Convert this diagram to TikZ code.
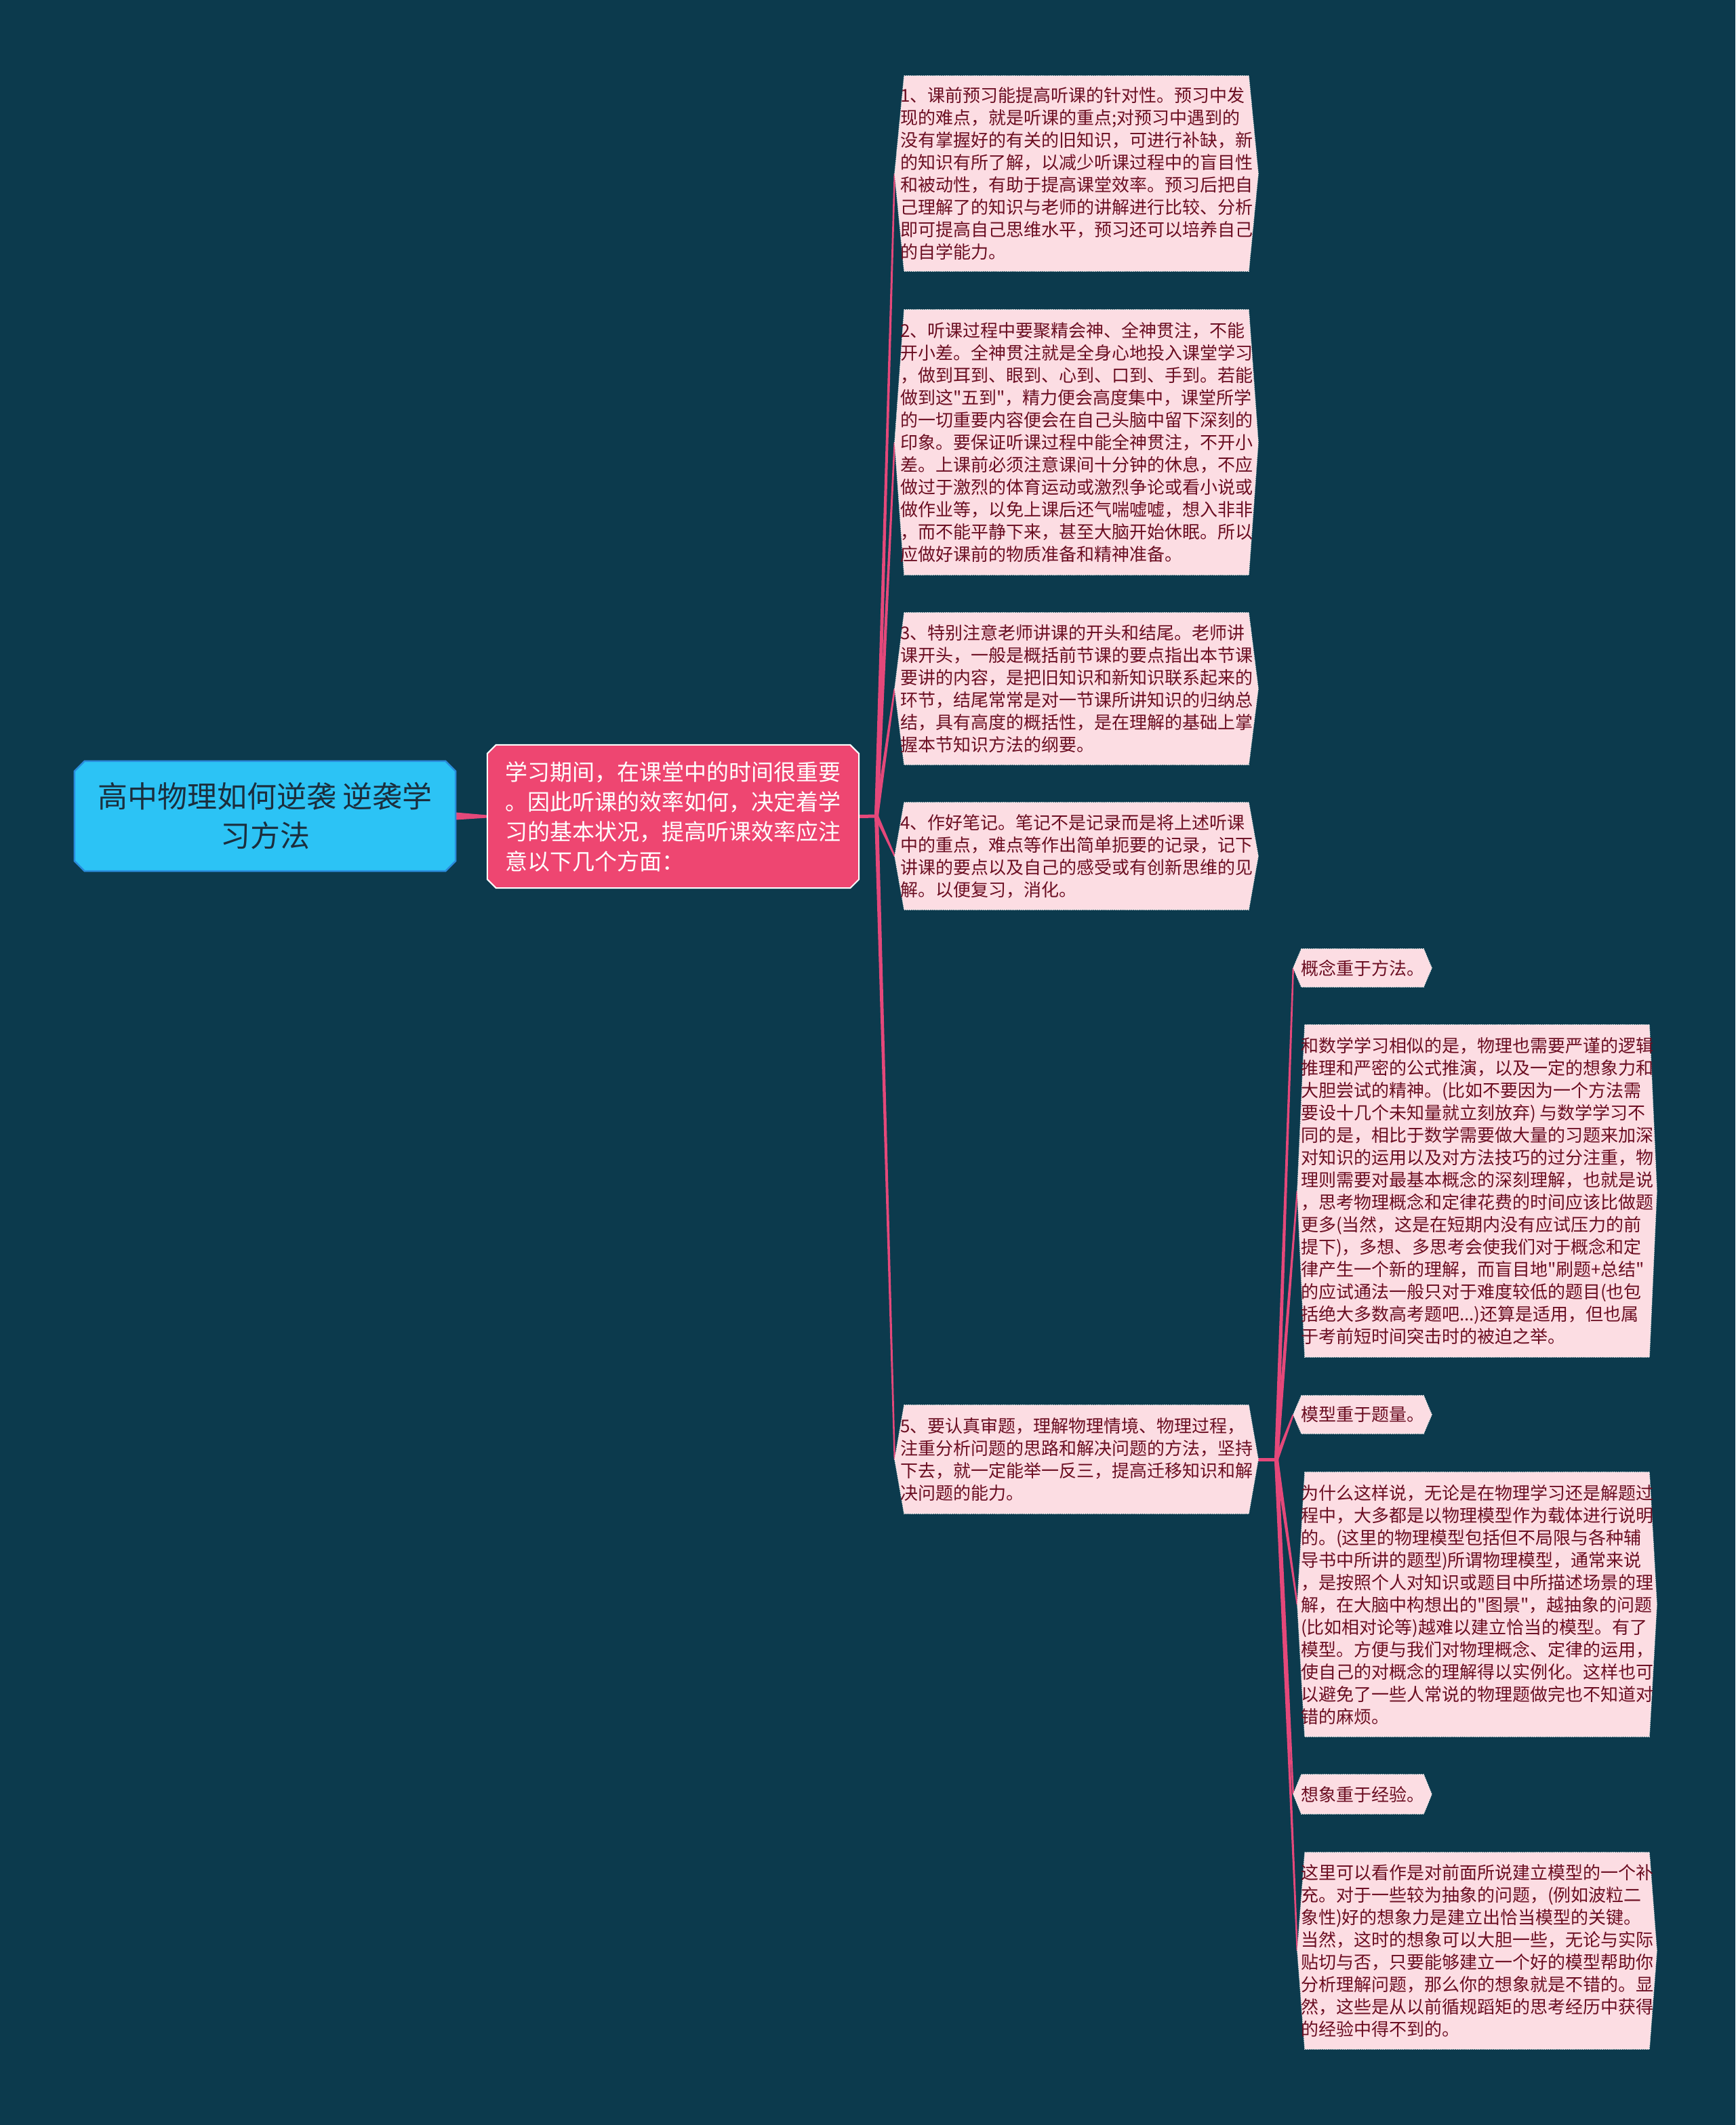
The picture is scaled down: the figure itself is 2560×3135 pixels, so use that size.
\documentclass[tikz,border=0pt]{standalone}
\usepackage{fontspec}
\setmainfont{Noto Sans CJK SC}[Ligatures=TeXOff]
\usetikzlibrary{calc}
\pgfdeclarelayer{background}
\pgfsetlayers{background,main}
\definecolor{bg}{HTML}{0C3A4D}
\definecolor{rootfill}{HTML}{2CC3F5}
\definecolor{rootline}{HTML}{2A8CDC}
\definecolor{roottext}{HTML}{1B2E3D}
\definecolor{mainfill}{HTML}{EE4671}
\definecolor{conn}{HTML}{E5487A}
\definecolor{boxfill}{HTML}{FCDDE3}
\definecolor{boxtext}{HTML}{6B0E22}
\definecolor{boxline}{HTML}{EDEDED}
\newcommand\hexbox[3]{\path[#3] ($(#1.north west)+(#2,0)$) -- ($(#1.north east)+(-#2,0)$) -- (#1.east) -- ($(#1.south east)+(-#2,0)$) -- ($(#1.south west)+(#2,0)$) -- (#1.west) -- cycle;}
\newcommand\octbox[3]{\path[#3] ($(#1.north west)+(#2,0)$) -- ($(#1.north east)+(-#2,0)$) -- ($(#1.north east)+(0,#2)$) -- ($(#1.south east)+(0,-#2)$) -- ($(#1.south east)+(-#2,0)$) -- ($(#1.south west)+(#2,0)$) -- ($(#1.south west)+(0,-#2)$) -- ($(#1.north west)+(0,#2)$) -- cycle;}
\newcommand\taper[4]{\fill[conn] ($(#1)!#3!90:(#2)$) -- ($(#2)!#4!-90:(#1)$) -- ($(#2)!#4!90:(#1)$) -- ($(#1)!#3!-90:(#2)$) -- cycle;}
\tikzset{
  txtbase/.style={inner sep=0pt, align=left, text=boxtext, font=\fontsize{26}{33}\selectfont},
  lvltwo/.style={txtbase, minimum width=536},
  lvlthree/.style={txtbase, minimum width=530},
  ttl/.style={txtbase, minimum width=204, minimum height=56},
  boxshape/.style={fill=boxfill, draw=boxline, line width=1.2pt, dash pattern=on 1.4pt off 1.4pt},
  rootnode/.style={inner sep=0pt, align=center, text=roottext, font=\fontsize{44}{58}\selectfont, minimum width=562, minimum height=162},
  mainnode/.style={inner sep=0pt, align=left, text=white, font=\fontsize{33}{44}\selectfont, minimum width=548, minimum height=211},
  stub/.style={draw=conn, line width=5pt},
}
\begin{document}
\begin{tikzpicture}[x=1pt,y=-1pt]
\useasboundingbox (0,0) rectangle (2560,3135);
\node[rootnode] (root) at (391,1204) {高中物理如何逆袭 逆袭学\\习方法};
\node[mainnode] (main) at (993,1204.5) {学习期间，在课堂中的时间很重要\\。因此听课的效率如何，决定着学\\习的基本状况，提高听课效率应注\\意以下几个方面：};
\coordinate (hubA) at (1293,1204);
\node[lvltwo, minimum height=288] (b1) at (1588,256) {1、课前预习能提高听课的针对性。预习中发\\现的难点，就是听课的重点;对预习中遇到的\\没有掌握好的有关的旧知识，可进行补缺，新\\的知识有所了解，以减少听课过程中的盲目性\\和被动性，有助于提高课堂效率。预习后把自\\己理解了的知识与老师的讲解进行比较、分析\\即可提高自己思维水平，预习还可以培养自己\\的自学能力。};
\node[lvltwo, minimum height=391] (b2) at (1588,652.5) {2、听课过程中要聚精会神、全神贯注，不能\\开小差。全神贯注就是全身心地投入课堂学习\\，做到耳到、眼到、心到、口到、手到。若能\\做到这"五到"，精力便会高度集中，课堂所学\\的一切重要内容便会在自己头脑中留下深刻的\\印象。要保证听课过程中能全神贯注，不开小\\差。上课前必须注意课间十分钟的休息，不应\\做过于激烈的体育运动或激烈争论或看小说或\\做作业等，以免上课后还气喘嘘嘘，想入非非\\，而不能平静下来，甚至大脑开始休眠。所以\\应做好课前的物质准备和精神准备。};
\node[lvltwo, minimum height=224] (b3) at (1588,1016) {3、特别注意老师讲课的开头和结尾。老师讲\\课开头，一般是概括前节课的要点指出本节课\\要讲的内容，是把旧知识和新知识联系起来的\\环节，结尾常常是对一节课所讲知识的归纳总\\结，具有高度的概括性，是在理解的基础上掌\\握本节知识方法的纲要。};
\node[lvltwo, minimum height=158] (b4) at (1588,1263) {4、作好笔记。笔记不是记录而是将上述听课\\中的重点，难点等作出简单扼要的记录，记下\\讲课的要点以及自己的感受或有创新思维的见\\解。以便复习，消化。};
\node[lvltwo, minimum height=160] (b5) at (1588,2153) {5、要认真审题，理解物理情境、物理过程，\\注重分析问题的思路和解决问题的方法，坚持\\下去，就一定能举一反三，提高迁移知识和解\\决问题的能力。};
\coordinate (hubB) at (1883,2153);
\node[ttl] (t1) at (2010,1428) {概念重于方法。};
\node[lvlthree, minimum height=490] (c1) at (2179,1757) {和数学学习相似的是，物理也需要严谨的逻辑\\推理和严密的公式推演，以及一定的想象力和\\大胆尝试的精神。(比如不要因为一个方法需\\要设十几个未知量就立刻放弃) 与数学学习不\\同的是，相比于数学需要做大量的习题来加深\\对知识的运用以及对方法技巧的过分注重，物\\理则需要对最基本概念的深刻理解，也就是说\\，思考物理概念和定律花费的时间应该比做题\\更多(当然，这是在短期内没有应试压力的前\\提下)，多想、多思考会使我们对于概念和定\\律产生一个新的理解，而盲目地"刷题+总结"\\的应试通法一般只对于难度较低的题目(也包\\括绝大多数高考题吧...)还算是适用，但也属\\于考前短时间突击时的被迫之举。};
\node[ttl] (t2) at (2010,2087) {模型重于题量。};
\node[lvlthree, minimum height=390] (c2) at (2179,2367) {为什么这样说，无论是在物理学习还是解题过\\程中，大多都是以物理模型作为载体进行说明\\的。(这里的物理模型包括但不局限与各种辅\\导书中所讲的题型)所谓物理模型，通常来说\\，是按照个人对知识或题目中所描述场景的理\\解，在大脑中构想出的"图景"，越抽象的问题\\(比如相对论等)越难以建立恰当的模型。有了\\模型。方便与我们对物理概念、定律的运用，\\使自己的对概念的理解得以实例化。这样也可\\以避免了一些人常说的物理题做完也不知道对\\错的麻烦。};
\node[ttl, minimum height=58] (t3) at (2010,2647) {想象重于经验。};
\node[lvlthree, minimum height=290] (c3) at (2179,2878) {这里可以看作是对前面所说建立模型的一个补\\充。对于一些较为抽象的问题，(例如波粒二\\象性)好的想象力是建立出恰当模型的关键。\\当然，这时的想象可以大胆一些，无论与实际\\贴切与否，只要能够建立一个好的模型帮助你\\分析理解问题，那么你的想象就是不错的。显\\然，这些是从以前循规蹈矩的思考经历中获得\\的经验中得不到的。};
\begin{pgfonlayer}{background}
\fill[bg] (0,0) rectangle (2560,3135);
\taper{root.east}{main.west}{5.5pt}{2pt}
\draw[stub] (main.east) -- (hubA);
\draw[stub] (b5.east) -- (hubB);
\foreach \n in {b1,b2,b3,b4,b5} {\taper{hubA}{\n.west}{3pt}{1.2pt}}
\foreach \n in {t1,c1,t2,c2,t3,c3} {\taper{hubB}{\n.west}{3pt}{1.2pt}}
\octbox{root}{15}{fill=rootfill, draw=rootline, line width=2.5pt}
\octbox{main}{13}{fill=mainfill, draw=white, line width=2pt}
\foreach \n in {b1,b2,b3,b4,b5} {\hexbox{\n}{14}{boxshape}}
\foreach \n in {c1,c2,c3} {\hexbox{\n}{11}{boxshape}}
\foreach \n in {t1,t2,t3} {\hexbox{\n}{12}{boxshape}}
\end{pgfonlayer}
\end{tikzpicture}
\end{document}
